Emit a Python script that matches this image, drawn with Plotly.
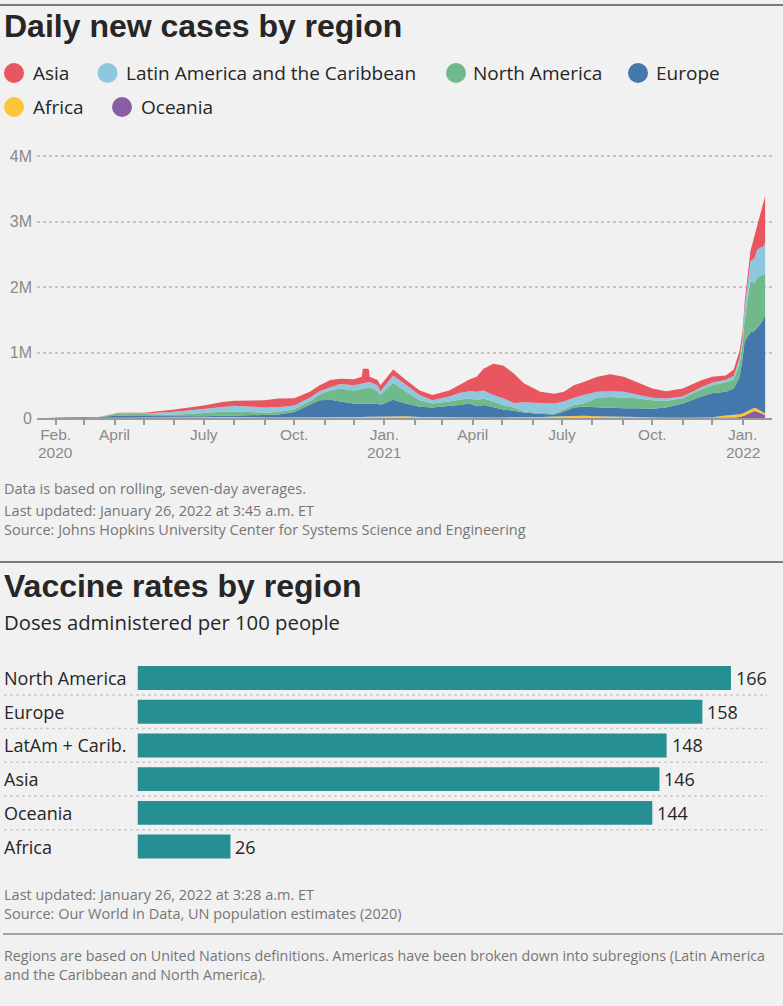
import plotly.graph_objects as go

W, H = 783, 1006

# ---------------- Data: daily new cases (thousands, 7-day avg) ----------------
dates = [
    "2020-01-22", "2020-02-15", "2020-03-01", "2020-03-15", "2020-03-25", "2020-04-05",
    "2020-05-01", "2020-06-01", "2020-07-01", "2020-07-20", "2020-08-01", "2020-08-20",
    "2020-09-01", "2020-09-15", "2020-10-01", "2020-10-17", "2020-10-27", "2020-11-07",
    "2020-11-17", "2020-12-01", "2020-12-09", "2020-12-10", "2020-12-16", "2020-12-17",
    "2020-12-25", "2020-12-28", "2021-01-10", "2021-01-23", "2021-02-06", "2021-02-19",
    "2021-03-08", "2021-03-18", "2021-03-29", "2021-04-05", "2021-04-12", "2021-04-22",
    "2021-05-02", "2021-05-13", "2021-05-23", "2021-06-09", "2021-06-23", "2021-07-03",
    "2021-07-13", "2021-07-23", "2021-08-06", "2021-08-19", "2021-09-02", "2021-09-15",
    "2021-10-01", "2021-10-15", "2021-11-01", "2021-11-20", "2021-12-01", "2021-12-15",
    "2021-12-23", "2021-12-29", "2022-01-01", "2022-01-03", "2022-01-06", "2022-01-09",
    "2022-01-13", "2022-01-16", "2022-01-19", "2022-01-22", "2022-01-24",
]
oceania = [
    0, 0, 0, 0.1, 0.4, 0.3,
    0.02, 0.02, 0.1, 0.5, 0.6, 0.3,
    0.15, 0.05, 0.02, 0.02, 0.02, 0.02,
    0.02, 0.02, 0.02, 0.02, 0.02, 0.02,
    0.02, 0.02, 0.02, 0.02, 0.01, 0.01,
    0.01, 0.01, 0.01, 0.01, 0.01, 0.01,
    0.01, 0.02, 0.02, 0.02, 0.02, 0.03,
    0.05, 0.1, 0.3, 0.8, 1.5, 1.8,
    2, 2.5, 2, 1.5, 1.5, 3,
    6, 15, 25, 40, 60, 80,
    105, 95, 80, 60, 45,
]
africa = [
    0, 0, 0, 0.05, 0.3, 0.8,
    1.5, 4, 10, 14, 15, 11,
    9, 7, 7, 8, 9, 10,
    12, 14, 17, 17, 20, 20,
    22, 23, 30, 25, 15, 12,
    10, 10, 10, 10, 10, 9,
    9, 9, 12, 15, 22, 28,
    33, 35, 28, 22, 17, 12,
    7, 5, 4, 4, 10, 35,
    38, 42, 45, 45, 45, 45,
    50, 45, 35, 25, 25,
]
europe = [
    0, 0.1, 1.5, 10, 27, 35,
    28, 20, 17, 18, 22, 27,
    33, 45, 83, 192, 261, 270,
    238, 206, 203, 203, 200, 200,
    198, 177, 250, 195, 155, 148,
    170, 190, 210, 170, 190, 151,
    121, 101, 73, 45, 33, 72,
    127, 135, 131, 137, 131, 136,
    131, 152, 214, 324, 368, 362,
    406, 573, 830, 1075, 1125, 1185,
    1175, 1240, 1315, 1425, 1490,
]
north_america = [
    0, 0, 0.1, 3, 14, 32,
    30, 25, 50, 68, 60, 48,
    40, 40, 45, 50, 90, 140,
    200, 200, 230, 230, 250, 250,
    190, 150, 260, 180, 100, 60,
    70, 80, 80, 90, 100, 90,
    70, 50, 15, 20, 15, 30,
    40, 50, 150, 160, 160, 150,
    130, 100, 80, 110, 120, 145,
    140, 200, 230, 320, 580, 780,
    740, 760, 740, 670, 630,
]
latin_america = [
    0, 0, 0, 0.3, 2, 4,
    10, 45, 62, 68, 88, 85,
    80, 72, 55, 60, 50, 50,
    70, 80, 80, 80, 80, 80,
    90, 60, 110, 100, 80, 50,
    80, 100, 110, 130, 120, 100,
    100, 70, 140, 150, 150, 120,
    110, 130, 90, 90, 90, 60,
    40, 40, 30, 30, 40, 40,
    50, 90, 100, 160, 180, 300,
    370, 430, 430, 440, 480,
]
asia = [
    0.5, 3, 2, 2, 3, 8,
    12, 36, 51, 77, 77, 90,
    108, 132, 110, 90, 90, 110,
    80, 90, 100, 220, 200, 80,
    80, 90, 90, 80, 70, 80,
    90, 120, 180, 230, 330, 480,
    500, 450, 290, 170, 150, 150,
    190, 200, 230, 260, 230, 190,
    140, 110, 120, 105, 90, 65,
    100, 110, 100, 100, 150, 160,
    330, 380, 530, 680, 720,
]

# stacking order bottom -> top
stack_names = ["Oceania", "Africa", "Europe", "North America",
               "Latin America and the Caribbean", "Asia"]
stack_values = [oceania, africa, europe, north_america, latin_america, asia]
region_colors = {
    "Asia": "#e8565f",
    "Latin America and the Caribbean": "#8ec7de",
    "North America": "#70b98b",
    "Europe": "#4478ad",
    "Africa": "#fdc53a",
    "Oceania": "#8a5ea5",
}

# axis ticks
month_ticks = [
    "2020-02-01", "2020-03-01", "2020-04-01", "2020-05-01", "2020-06-01", "2020-07-01",
    "2020-08-01", "2020-09-01", "2020-10-01", "2020-11-01", "2020-12-01", "2021-01-01",
    "2021-02-01", "2021-03-01", "2021-04-01", "2021-05-01", "2021-06-01", "2021-07-01",
    "2021-08-01", "2021-09-01", "2021-10-01", "2021-11-01", "2021-12-01", "2022-01-01",
]
month_labels = [
    "Feb.", "", "April", "", "", "July", "", "", "Oct.", "", "", "Jan.",
    "", "", "April", "", "", "July", "", "", "Oct.", "", "", "Jan.",
]
year_ticks = ["2020-02-01", "2021-01-01", "2022-01-01"]
year_labels = ["2020", "2021", "2022"]
y_tick_vals = [0, 1000, 2000, 3000, 4000]
y_tick_text = ["0", "1M", "2M", "3M", "4M"]

# ---------------- Data: vaccine doses per 100 people ----------------
bar_regions = ["North America", "Europe", "LatAm + Carib.", "Asia", "Oceania", "Africa"]
bar_values = [166, 158, 148, 146, 144, 26]

# legend layout (order as in reference)
legend_rows = [
    ["Asia", "Latin America and the Caribbean", "North America", "Europe"],
    ["Africa", "Oceania"],
]

# ---------------- Styling helpers ----------------
TITLE_FONT = "Liberation Sans, Arial, sans-serif"
BODY_FONT = "Open Sans, Liberation Sans, Arial, sans-serif"
AXIS_FONT = "Liberation Sans, Arial, sans-serif"
BG = "#f1f1f1"
DARK = "#262626"
GRAY_TXT = "#767676"
AXIS_GRAY = "#8a8a8a"


def px(x):
    return x / W


def py(y):
    return 1 - y / H


fig = go.Figure()

for name, vals in zip(stack_names, stack_values):
    fig.add_trace(go.Scatter(
        x=dates, y=vals, name=name, mode="lines",
        stackgroup="cases", line=dict(width=0, color=region_colors[name]),
        fillcolor=region_colors[name], showlegend=False,
        hoverinfo="x+y+name",
    ))

fig.add_trace(go.Bar(
    x=bar_values, y=bar_regions, orientation="h",
    xaxis="x2", yaxis="y2", width=0.71,
    marker=dict(color="#268f93", line=dict(width=0)),
    showlegend=False,
))

annotations = []
shapes = []


def text(x, y, s, size, color, family=BODY_FONT):
    annotations.append(dict(
        x=px(x), y=py(y), xref="paper", yref="paper", text=s,
        showarrow=False, xanchor="left", yanchor="middle", align="left",
        font=dict(family=family, size=size, color=color),
    ))


# titles & notes
text(2, 26.5, "<b>Daily new cases by region</b>", 32, DARK, TITLE_FONT)
text(2, 489, "Data is based on rolling, seven-day averages.", 14.5, GRAY_TXT)
text(2, 520, "Last updated: January 26, 2022 at 3:45 a.m. ET<br>"
             "Source: Johns Hopkins University Center for Systems Science and Engineering",
     14.5, GRAY_TXT)
text(2, 585.5, "<b>Vaccine rates by region</b>", 32, DARK, TITLE_FONT)
text(2, 622, "Doses administered per 100 people", 20.3, DARK)
text(2, 903.5, "Last updated: January 26, 2022 at 3:28 a.m. ET<br>"
               "Source: Our World in Data, UN population estimates (2020)",
     14.5, GRAY_TXT)
text(2, 964.5, "Regions are based on United Nations definitions. Americas have been broken down into subregions (Latin America<br>"
               "and the Caribbean and North America).", 14.3, GRAY_TXT)

# year labels under the date axis
for d, lab in zip(year_ticks, year_labels):
    annotations.append(dict(
        x=d, y=py(452.5), xref="x", yref="paper", text=lab, showarrow=False,
        xanchor="center", yanchor="middle",
        font=dict(family=AXIS_FONT, size=15.5, color=AXIS_GRAY),
    ))

# legend (manual, circles + labels)
legend_pos = {
    "Asia": (14, 73, 31), "Latin America and the Caribbean": (107.5, 73, 124),
    "North America": (456, 73, 471), "Europe": (638, 73, 654),
    "Africa": (14, 107, 31), "Oceania": (122, 107, 139),
}
for row in legend_rows:
    for name in row:
        cx, cy, tx = legend_pos[name]
        shapes.append(dict(type="circle", xref="paper", yref="paper",
                           x0=px(cx - 10), x1=px(cx + 10), y0=py(cy + 10), y1=py(cy - 10),
                           fillcolor=region_colors[name], line=dict(width=0)))
        text(tx, cy, name, 19, DARK)

# bar category labels and value labels
for r, v in zip(bar_regions, bar_values):
    annotations.append(dict(
        x=px(2), y=r, xref="paper", yref="y2", text=r, showarrow=False,
        xanchor="left", yanchor="middle",
        font=dict(family=BODY_FONT, size=18, color=DARK),
    ))
    annotations.append(dict(
        x=v, y=r, xref="x2", yref="y2", text=str(v), showarrow=False,
        xanchor="left", yanchor="middle", xshift=3,
        font=dict(family=BODY_FONT, size=18, color=DARK),
    ))

# dotted separators between bar rows
for i in range(len(bar_regions) - 1):
    shapes.append(dict(type="line", xref="paper", yref="y2",
                       x0=px(4), x1=px(767), y0=i + 0.5, y1=i + 0.5,
                       line=dict(color="#c9c9c9", width=1.5, dash="dot")))

# horizontal rules
shapes.append(dict(type="line", xref="paper", yref="paper", x0=0, x1=1,
                   y0=py(5), y1=py(5), line=dict(color="#7b7b7b", width=2)))
shapes.append(dict(type="line", xref="paper", yref="paper", x0=0, x1=1,
                   y0=py(562), y1=py(562), line=dict(color="#7b7b7b", width=2)))
shapes.append(dict(type="line", xref="paper", yref="paper", x0=px(3), x1=1,
                   y0=py(934), y1=py(934), line=dict(color="#8a8a8a", width=1.5)))

fig.update_layout(
    width=W, height=H, autosize=False,
    margin=dict(l=0, r=0, t=0, b=0, pad=0, autoexpand=False),
    paper_bgcolor=BG, plot_bgcolor=BG,
    showlegend=False,
    annotations=annotations, shapes=shapes,
    xaxis=dict(
        domain=[px(37), px(772)], type="date",
        range=["2020-01-13", "2022-01-31"],
        tickmode="array", tickvals=month_ticks, ticktext=month_labels,
        ticks="outside", ticklen=5, tickwidth=1.5, tickcolor="#9a9a9a",
        showline=True, linecolor="#9a9a9a", linewidth=2,
        showgrid=False, zeroline=False, automargin=False,
        ticklabelstandoff=-4,
        tickfont=dict(family=AXIS_FONT, size=15.5, color=AXIS_GRAY),
        fixedrange=True,
    ),
    yaxis=dict(
        domain=[py(418), py(152)], range=[0, 4061],
        tickmode="array", tickvals=y_tick_vals, ticktext=y_tick_text,
        showgrid=True, gridcolor="#c4c4c4", gridwidth=1.5, griddash="dot",
        zeroline=False, showline=False, ticks="", automargin=False,
        ticklabelstandoff=4,
        tickfont=dict(family=AXIS_FONT, size=16, color=AXIS_GRAY),
        fixedrange=True,
    ),
    xaxis2=dict(
        domain=[px(137.5), px(781)], range=[0, 180], anchor="y2",
        showgrid=False, zeroline=False, showline=False, automargin=False,
        showticklabels=False, ticks="", fixedrange=True,
    ),
    yaxis2=dict(
        domain=[py(863.4), py(661.2)], range=[5.5, -0.5], anchor="x2",
        type="category", showgrid=False, zeroline=False, showline=False,
        automargin=False, showticklabels=False, ticks="", fixedrange=True,
    ),
)

fig.write_html(
    "out.html",
    config={"displayModeBar": False},
    post_script="document.body.style.margin='0';document.body.style.padding='0';",
)
